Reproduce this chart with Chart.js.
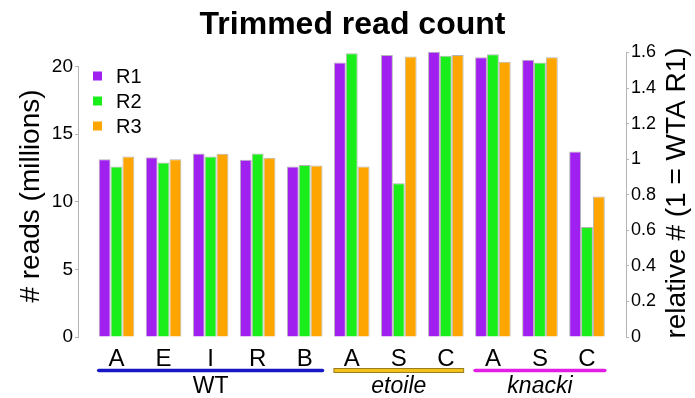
<!DOCTYPE html>
<html>
<head>
<meta charset="utf-8">
<script src="https://cdn.jsdelivr.net/npm/chart.js@4.4.1/dist/chart.umd.min.js"></script>
<style>
  html, body { margin:0; padding:0; background:#fff; }
  #wrap { width:695px; height:398px; }
</style>
</head>
<body>
<div id="wrap"><canvas id="readChart" width="695" height="398"></canvas></div>
<script>
// read counts in millions
const categories = ['A', 'E', 'I', 'R', 'B', 'A', 'S', 'C', 'A', 'S', 'C'];
const r1 = [13.15, 13.3, 13.57, 13.1, 12.61, 20.3, 20.86, 21.1, 20.69, 20.5, 13.72];
const r2 = [12.61, 12.9, 13.35, 13.57, 12.73, 20.99, 11.38, 20.81, 20.92, 20.3, 8.13];
const r3 = [13.35, 13.15, 13.55, 13.25, 12.68, 12.61, 20.74, 20.86, 20.35, 20.69, 10.39];
const seriesNames = ['R1', 'R2', 'R3'];
const groupNames = ['WT', 'etoile', 'knacki'];
const groupFirst = [0, 5, 8];
const groupLast = [4, 7, 10];
const leftTicks = [0, 5, 10, 15, 20];
const rightTop = 1.6;
const wtaR1 = r1[0]; // 1 on the right axis

const FONT = "'Liberation Sans', Arial, Helvetica, sans-serif";
const colors = ['#a020f0', '#1aee1a', '#ffa500'];
const groupColors = ['#1717c4', '#f2c21b', '#e31ee3'];
const catPct = 0.757;
const yMax = 21.3;

const toXY = arr => arr.map((v, i) => ({ x: i, y: v }));

const decor = {
  id: 'decor',
  afterDraw(chart) {
    const ctx = chart.ctx;
    const area = chart.chartArea;
    const x = chart.scales.x, y = chart.scales.y, y2 = chart.scales.y2;
    ctx.save();

    // axis lines, only over the labelled range
    ctx.strokeStyle = '#b4b4b4';
    ctx.lineWidth = 1;
    ctx.beginPath();
    ctx.moveTo(area.left - 0.5, y.getPixelForValue(0));
    ctx.lineTo(area.left - 0.5, y.getPixelForValue(leftTicks[leftTicks.length - 1]));
    ctx.moveTo(area.right + 0.5, y2.getPixelForValue(0));
    ctx.lineTo(area.right + 0.5, y2.getPixelForValue(rightTop));
    ctx.stroke();

    // legend in the top-left corner
    ctx.font = '20px ' + FONT;
    ctx.textBaseline = 'middle';
    ctx.textAlign = 'left';
    chart.data.datasets.forEach((ds, i) => {
      const cy = area.top + 27 + i * 25;
      ctx.fillStyle = ds.backgroundColor;
      ctx.fillRect(area.left + 14, cy - 4.5, 9, 9);
      ctx.fillStyle = '#000';
      ctx.fillText(ds.label, area.left + 37, cy + 1);
    });

    // group underlines and names
    const half = (x.getPixelForValue(1) - x.getPixelForValue(0)) * catPct / 2;
    groupNames.forEach((name, g) => {
      const x0 = x.getPixelForValue(groupFirst[g]) - half;
      const x1 = x.getPixelForValue(groupLast[g]) + half;
      const ly = 370.5;
      if (g === 1) {
        ctx.fillStyle = groupColors[g];
        ctx.fillRect(x0, ly - 2, x1 - x0, 4);
        ctx.strokeStyle = '#9c7d1c';
        ctx.lineWidth = 1;
        ctx.strokeRect(x0, ly - 2, x1 - x0, 4);
      } else {
        ctx.strokeStyle = groupColors[g];
        ctx.lineWidth = 3.5;
        ctx.lineCap = 'round';
        ctx.beginPath();
        ctx.moveTo(x0, ly);
        ctx.lineTo(x1, ly);
        ctx.stroke();
      }
      ctx.fillStyle = '#000';
      ctx.textAlign = 'center';
      ctx.textBaseline = 'alphabetic';
      ctx.font = (g === 0 ? '' : 'italic ') + '23px ' + FONT;
      ctx.fillText(name, (x0 + x1) / 2, 393);
    });

    // axis titles, both reading bottom to top
    ctx.font = '28px ' + FONT;
    ctx.textAlign = 'center';
    ctx.textBaseline = 'alphabetic';
    ctx.save();
    ctx.translate(38.5, 196);
    ctx.rotate(-Math.PI / 2);
    ctx.fillText('# reads (millions)', 0, 0);
    ctx.restore();
    ctx.save();
    ctx.translate(685, 193);
    ctx.rotate(-Math.PI / 2);
    ctx.fillText('relative # (1 = WTA R1)', 0, 0);
    ctx.restore();

    ctx.restore();
  }
};

const ctx = document.getElementById('readChart').getContext('2d');
new Chart(ctx, {
  type: 'bar',
  data: {
    datasets: [r1, r2, r3].map((arr, i) => ({
      label: seriesNames[i],
      data: toXY(arr),
      backgroundColor: colors[i],
      borderColor: 'rgba(90,90,90,0.45)',
      borderWidth: 1,
      categoryPercentage: catPct,
      barPercentage: 1.0
    }))
  },
  options: {
    responsive: false,
    animation: false,
    layout: { padding: 0 },
    plugins: {
      legend: { display: false },
      tooltip: { enabled: false },
      title: {
        display: true,
        text: 'Trimmed read count',
        fullSize: false,
        color: '#000',
        font: { family: FONT, size: 32, weight: 'bold' },
        padding: { top: 6, bottom: 4.6 }
      }
    },
    scales: {
      x: {
        type: 'linear',
        offset: false,
        min: -0.797,
        max: 10.829,
        grid: { display: false, offset: false },
        border: { display: false },
        ticks: {
          autoSkip: false,
          maxRotation: 0,
          padding: 0,
          color: '#000',
          font: { family: FONT, size: 24 },
          callback: v => categories[v]
        },
        afterBuildTicks: s => { s.ticks = categories.map((c, i) => ({ value: i })); },
        afterFit: s => { s.height = 61; }
      },
      y: {
        position: 'left',
        min: 0,
        max: yMax,
        grid: { drawOnChartArea: false, color: '#b4b4b4', tickLength: 4 },
        border: { display: false },
        ticks: { padding: 2, color: '#000', font: { family: FONT, size: 19 } },
        afterBuildTicks: s => { s.ticks = leftTicks.map(v => ({ value: v })); },
        afterFit: s => { s.width = 79; }
      },
      y2: {
        position: 'right',
        min: 0,
        max: yMax / wtaR1,
        grid: { drawOnChartArea: false, color: '#b4b4b4', tickLength: 3 },
        border: { display: false },
        ticks: {
          padding: 2,
          color: '#000',
          font: { family: FONT, size: 18 },
          callback: v => (Math.round(v * 10) % 2 === 0 ? String(Math.round(v * 10) / 10) : '')
        },
        afterBuildTicks: s => {
          const t = [];
          for (let k = 0; k <= Math.round(rightTop * 10); k++) t.push({ value: k / 10 });
          s.ticks = t;
        },
        afterFit: s => { s.width = 69; }
      }
    }
  },
  plugins: [decor]
});
</script>
</body>
</html>
